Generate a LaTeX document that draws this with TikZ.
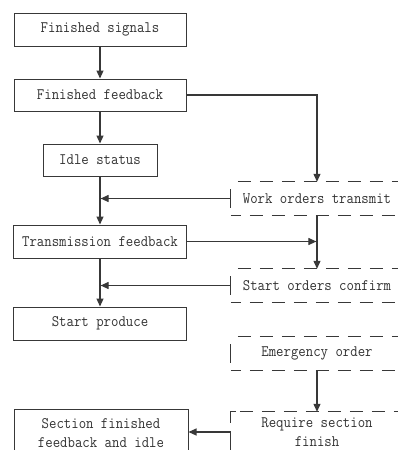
\documentclass[tikz,border=0pt]{standalone}
\usepackage{fontspec}
\setmonofont{Latin Modern Mono}[FakeStretch=0.9]
\usetikzlibrary{arrows.meta,calc}
\definecolor{lc}{HTML}{383838}
\definecolor{tc}{HTML}{333333}
\begin{document}
\begin{tikzpicture}[x=1pt,y=-1pt,
  box/.style={draw=lc, line width=1pt, fill=white, text=tc, align=center, inner sep=0pt,
    font=\fontsize{16}{18.5}\selectfont\ttfamily},
  dbox/.style={text=tc, align=center, inner sep=0pt, minimum width=172pt, minimum height=33pt,
    font=\fontsize{16}{19.5}\selectfont\ttfamily},
  dline/.style={draw=lc, line width=1pt, dash pattern=on 13pt off 9pt},
  sline/.style={draw=lc, line width=1pt},
  arr/.style={draw=lc, line width=1.1pt, -{Triangle[length=8pt,width=7pt]}}]
\useasboundingbox (0,0) rectangle (398,450);
\clip (0,0) rectangle (398,450);
\fill[white] (0,0) rectangle (398,450);
% left column
\node[box, minimum width=172pt, minimum height=33pt] (b1) at (100,29.5) {Finished signals};
\node[box, minimum width=172pt, minimum height=32pt] (b2) at (100,95) {Finished feedback};
\node[box, minimum width=114pt, minimum height=32pt] (b3) at (100,160) {Idle status};
\node[box, minimum width=173pt, minimum height=33pt] (b4) at (100,241.5) {Transmission feedback};
\node[box, minimum width=173pt, minimum height=33pt] (b5) at (100,323.5) {Start produce};
\node[box, minimum width=174pt, minimum height=48pt] (b6) at (101,433) {Section finished\\feedback and idle};
% right column
\node[dbox] (wo) at (317,198.5) {Work orders transmit};
\node[dbox] (so) at (317,285.5) {Start orders confirm};
\node[dbox] (em) at (317,353.5) {Emergency order};
\node[dbox, minimum height=40pt] (rs) at (317,432) {Require section\\finish};
% dashed frames
\foreach \n in {wo,so,em}{
  \draw[dline] ($(\n.north west)+(7,0)$) -- (\n.north east);
  \draw[dline, dash phase=3pt] (\n.south west) -- (\n.south east);
  \draw[sline] ($(\n.west)+(0,-9.5)$) -- ($(\n.west)+(0,9.5)$);
}
\draw[dline] ($(rs.north west)+(9,0)$) -- (rs.north east);
\draw[sline] ($(rs.north west)+(0,11)$) -- (rs.north west) -- ++(5,0);
\draw[sline] (rs.west) -- ++(0,30);
% connectors
\draw[arr] (b1) -- (b2);
\draw[arr] (b2) -- (b3);
\draw[arr] (b3) -- (b4);
\draw[arr] (b4) -- (b5);
\draw[arr] (b2.east) -| (wo.north);
\draw[arr, shorten >=0.6pt] (wo.west) -- (wo.west -| b3.south);
\draw[arr] (wo.south) -- (so.north);
\draw[arr, shorten >=0.6pt] (b4.east) -- (b4.east -| wo.south);
\draw[arr, shorten >=0.6pt] (so.west) -- (so.west -| b5.north);
\draw[arr] (em.south) -- (rs.north);
\draw[arr] (rs.west) -- (rs.west -| b6.east);
\end{tikzpicture}
\end{document}
